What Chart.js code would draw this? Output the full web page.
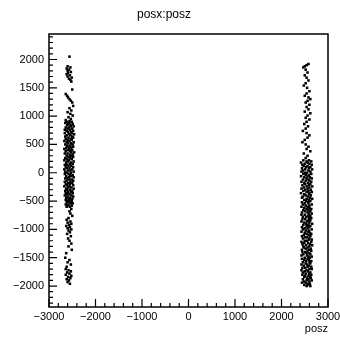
<!DOCTYPE html>
<html>
<head>
<meta charset="utf-8">
<script src="https://cdn.jsdelivr.net/npm/chart.js@4/dist/chart.umd.min.js"></script>
<style>
  html, body { margin: 0; padding: 0; background: #fff; }
  #wrap { width: 340px; height: 340px; }
</style>
</head>
<body>
<div id="wrap"><canvas id="scatterChart"></canvas></div>
<script>
// posx (vertical) against posz (horizontal)
// left band, sparse top part
const leftTopPosx = [2050, 1880, 1860, 1840, 1820, 1800, 1780, 1760, 1740, 1720, 1700, 1680, 1660, 1640, 1610, 1470,
    1390, 1360, 1330, 1300, 1270, 1240, 1180, 1140, 1100, 1070, 1040, 1010, 980, 950, 930, 910];
const leftTopPosz = [-2560, -2600, -2540, -2620, -2570, -2600, -2530, -2590, -2620, -2550, -2600, -2510, -2570, -2540, -2520, -2500,
    -2640, -2610, -2590, -2560, -2530, -2500, -2480, -2560, -2520, -2600, -2540, -2490, -2580, -2530, -2640, -2560];

// left band, dense middle part (two points per row)
const leftMidPosx = [900, 880, 860, 840, 820, 800, 780, 760, 740, 720, 700, 680, 660, 640, 620, 600, 580, 560, 540, 520,
    500, 480, 460, 440, 420, 400, 380, 360, 340, 320, 300, 280, 260, 240, 220, 200, 180, 160, 140, 120,
    100, 80, 60, 40, 20, 0, -20, -40, -60, -80, -100, -120, -140, -160, -180, -200, -220, -240, -260, -280,
    -300, -320, -340, -360, -380, -400, -420, -440, -460, -480, -500, -520, -540, -560, -580, -600];
const leftMidPoszA = [-2620, -2560, -2490, -2610, -2530, -2640, -2500, -2550, -2620, -2530, -2660, -2570, -2620, -2500, -2580, -2640, -2510, -2560, -2470, -2590,
    -2650, -2540, -2480, -2630, -2560, -2500, -2640, -2520, -2600, -2550, -2620, -2480, -2650, -2510, -2570, -2470, -2630, -2550, -2610, -2520,
    -2640, -2560, -2500, -2590, -2650, -2530, -2580, -2490, -2630, -2570, -2650, -2510, -2620, -2540, -2590, -2640, -2480, -2560, -2520, -2630,
    -2550, -2500, -2590, -2640, -2560, -2520, -2600, -2550, -2500, -2640, -2590, -2620, -2530, -2580, -2510, -2550];
const leftMidPoszB = [-2510, -2650, -2590, -2540, -2470, -2570, -2600, -2660, -2480, -2590, -2510, -2460, -2540, -2650, -2480, -2530, -2600, -2670, -2620, -2530,
    -2490, -2610, -2580, -2520, -2670, -2600, -2550, -2460, -2660, -2490, -2530, -2580, -2540, -2610, -2670, -2600, -2530, -2490, -2660, -2580,
    -2480, -2620, -2670, -2540, -2470, -2610, -2660, -2550, -2520, -2470, -2600, -2560, -2480, -2660, -2500, -2550, -2610, -2670, -2590, -2470,
    -2610, -2650, -2530, -2490, -2610, -2660, -2480, -2630, -2580, -2540, -2510, -2560, -2490, -2640, -2600, -2620];

// left band, sparse bottom part
const leftLowPosx = [-640, -680, -720, -760, -800, -830, -860, -880, -900, -920, -940, -960, -980, -1000, -1020, -1050, -1080, -1120, -1160, -1200,
    -1250, -1300, -1360, -1420, -1500, -1540, -1580, -1620, -1660, -1700, -1720, -1740, -1760, -1780, -1800, -1820, -1840, -1860, -1880, -1900, -1930, -1960];
const leftLowPosz = [-2520, -2560, -2540, -2500, -2580, -2620, -2540, -2600, -2520, -2570, -2630, -2550, -2600, -2520, -2580, -2550, -2610, -2530, -2590, -2560,
    -2520, -2580, -2510, -2630, -2650, -2560, -2600, -2530, -2620, -2640, -2580, -2530, -2610, -2560, -2640, -2520, -2590, -2540, -2620, -2570, -2600, -2550];

// right band, sparse top part
const rightTopPosx = [1920, 1900, 1880, 1860, 1820, 1770, 1720, 1680, 1630, 1580, 1540, 1500, 1440, 1400, 1360, 1330, 1300, 1270, 1240, 1200,
    1160, 1120, 1080, 1050, 1010, 970, 940, 900, 860, 820, 780, 740, 700, 660, 620, 580, 540, 500, 460, 420, 380, 340, 300, 260];
const rightTopPosz = [2580, 2540, 2500, 2470, 2520, 2560, 2500, 2540, 2580, 2520, 2480, 2550, 2600, 2540, 2500, 2580, 2620, 2560, 2520, 2600,
    2540, 2580, 2500, 2620, 2560, 2520, 2600, 2540, 2490, 2570, 2520, 2460, 2540, 2600, 2560, 2500, 2450, 2520, 2580, 2540, 2620, 2480, 2560, 2520];

// right band, dense lower part (two points per row)
const rightLowPosx = [220, 200, 180, 160, 140, 120, 100, 80, 60, 40, 20, 0, -20, -40, -60, -80, -100, -120, -140, -160,
    -180, -200, -220, -240, -260, -280, -300, -320, -340, -360, -380, -400, -420, -440, -460, -480, -500, -520, -540, -560,
    -580, -600, -620, -640, -660, -680, -700, -720, -740, -760, -780, -800, -820, -840, -860, -880, -900, -920, -940, -960,
    -980, -1000, -1020, -1040, -1060, -1080, -1100, -1120, -1140, -1160, -1180, -1200, -1220, -1240, -1260, -1280, -1300, -1320, -1340, -1360,
    -1380, -1400, -1420, -1440, -1460, -1480, -1500, -1520, -1540, -1560, -1580, -1600, -1620, -1640, -1660, -1680, -1700, -1720, -1740, -1760,
    -1780, -1800, -1820, -1840, -1860, -1880, -1900, -1920, -1940, -1960, -1980, -2000];
const rightLowPoszA = [2470, 2540, 2420, 2600, 2450, 2560, 2620, 2440, 2510, 2580, 2430, 2550, 2640, 2520, 2420, 2610, 2540, 2460, 2600, 2430,
    2570, 2510, 2450, 2660, 2480, 2560, 2630, 2470, 2540, 2420, 2590, 2520, 2460, 2610, 2540, 2490, 2620, 2440, 2580, 2650,
    2520, 2430, 2600, 2540, 2470, 2620, 2440, 2590, 2500, 2570, 2460, 2640, 2510, 2580, 2430, 2600, 2530, 2470, 2620, 2440,
    2560, 2650, 2520, 2430, 2610, 2540, 2480, 2620, 2550, 2460, 2590, 2500, 2640, 2570, 2450, 2530, 2600, 2480, 2630, 2440,
    2560, 2510, 2600, 2470, 2550, 2650, 2500, 2440, 2590, 2530, 2460, 2620, 2550, 2480, 2640, 2510, 2600, 2430, 2570, 2620,
    2520, 2450, 2580, 2490, 2630, 2460, 2540, 2600, 2520, 2610, 2490, 2540];
const rightLowPoszB = [2590, 2640, 2560, 2500, 2650, 2480, 2530, 2590, 2660, 2460, 2620, 2500, 2470, 2590, 2560, 2490, 2650, 2580, 2520, 2640,
    2490, 2620, 2590, 2540, 2600, 2430, 2510, 2580, 2650, 2600, 2490, 2630, 2570, 2440, 2660, 2590, 2530, 2570, 2500, 2460,
    2600, 2560, 2490, 2640, 2580, 2510, 2560, 2650, 2430, 2620, 2530, 2590, 2450, 2620, 2550, 2490, 2660, 2580, 2540, 2600,
    2500, 2460, 2590, 2570, 2500, 2640, 2580, 2440, 2510, 2600, 2650, 2550, 2430, 2490, 2610, 2660, 2470, 2560, 2520, 2590,
    2640, 2450, 2540, 2620, 2430, 2580, 2610, 2560, 2490, 2640, 2600, 2520, 2430, 2590, 2560, 2450, 2650, 2540, 2500, 2460,
    2590, 2640, 2510, 2620, 2550, 2580, 2650, 2480, 2440, 2570, 2560, 2620];

// axis ranges and labelled ticks
const poszRange = [-3000, 3000];
const posxRange = [-2370, 2450];
const poszTicks = [-3000, -2000, -1000, 0, 1000, 2000, 3000];
const posxTicks = [-2000, -1500, -1000, -500, 0, 500, 1000, 1500, 2000];

function toPoints(posz, posx) {
    return posz.map((z, i) => ({ x: z, y: posx[i] }));
}

const points = [].concat(
    toPoints(leftTopPosz, leftTopPosx),
    toPoints(leftMidPoszA, leftMidPosx),
    toPoints(leftMidPoszB, leftMidPosx),
    toPoints(leftLowPosz, leftLowPosx),
    toPoints(rightTopPosz, rightTopPosx),
    toPoints(rightLowPoszA, rightLowPosx),
    toPoints(rightLowPoszB, rightLowPosx)
);

function formatTick(value) {
    return value < 0 ? '\u2212' + Math.abs(value) : String(value);
}

// ROOT style frame with ticks drawn on the inside
const frameTicks = {
    id: 'frameTicks',
    afterDraw(chart) {
        const ctx = chart.ctx;
        const area = chart.chartArea;
        const xs = chart.scales.x;
        const ys = chart.scales.y;

        ctx.save();
        ctx.strokeStyle = '#000';
        ctx.lineWidth = 1.5;
        ctx.strokeRect(area.left, area.top, area.right - area.left, area.bottom - area.top);

        ctx.lineWidth = 1.2;
        ctx.beginPath();
        for (let v = -3000; v <= 3000; v += 200) {
            const px = xs.getPixelForValue(v);
            const len = v % 1000 === 0 ? 8 : 4;
            ctx.moveTo(px, area.bottom);
            ctx.lineTo(px, area.bottom - len);
        }
        for (let v = -2300; v <= 2400; v += 100) {
            const py = ys.getPixelForValue(v);
            const len = v % 500 === 0 ? 8 : 4;
            ctx.moveTo(area.left, py);
            ctx.lineTo(area.left + len, py);
        }
        ctx.stroke();
        ctx.restore();
    }
};

const canvas = document.getElementById('scatterChart');

new Chart(canvas, {
    type: 'scatter',
    data: {
        datasets: [{
            label: 'posx:posz',
            data: points,
            pointStyle: 'rect',
            pointRadius: 1.8,
            pointBorderWidth: 0,
            backgroundColor: '#000',
            borderColor: '#000',
        }],
    },
    options: {
        responsive: true,
        maintainAspectRatio: false,
        animation: false,
        layout: { padding: { left: 0, right: 12, top: 0, bottom: 0 } },
        plugins: {
            legend: { display: false },
            tooltip: { enabled: false },
            title: {
                display: true,
                text: 'posx:posz',
                color: '#000',
                font: { family: 'Liberation Sans', size: 12, weight: 'normal' },
                padding: { top: 7, bottom: 12.6 },
            },
        },
        scales: {
            x: {
                type: 'linear',
                min: poszRange[0],
                max: poszRange[1],
                grid: { display: false, drawTicks: false },
                border: { display: false },
                afterBuildTicks: scale => { scale.ticks = poszTicks.map(v => ({ value: v })); },
                afterFit: scale => {
                    scale.height = 33;
                    scale.paddingLeft = 0;
                    scale.paddingRight = 0;
                },
                ticks: {
                    color: '#000',
                    padding: 3,
                    maxRotation: 0,
                    autoSkip: false,
                    font: { family: 'Liberation Sans', size: 11 },
                    callback: formatTick,
                },
                title: {
                    display: true,
                    text: 'posz',
                    align: 'end',
                    color: '#000',
                    font: { family: 'Liberation Sans', size: 11 },
                    padding: { top: 0, bottom: 4 },
                },
            },
            y: {
                type: 'linear',
                min: posxRange[0],
                max: posxRange[1],
                grid: { display: false, drawTicks: false },
                border: { display: false },
                afterBuildTicks: scale => { scale.ticks = posxTicks.map(v => ({ value: v })); },
                afterFit: scale => {
                    scale.width = 49;
                    scale.paddingTop = 0;
                    scale.paddingBottom = 0;
                },
                ticks: {
                    color: '#000',
                    padding: 5,
                    autoSkip: false,
                    font: { family: 'Liberation Sans', size: 11 },
                    callback: formatTick,
                },
            },
        },
    },
    plugins: [frameTicks],
});
</script>
</body>
</html>
